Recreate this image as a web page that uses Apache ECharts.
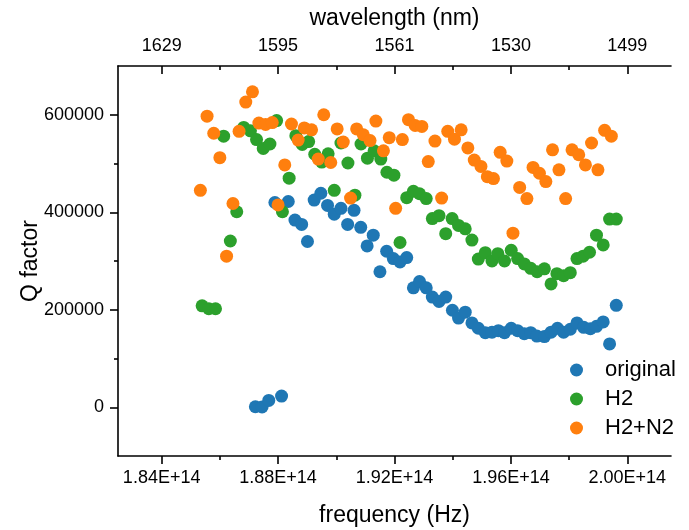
<!DOCTYPE html>
<html>
<head>
<meta charset="utf-8">
<script src="https://cdn.jsdelivr.net/npm/echarts@6/dist/echarts.min.js"></script>
<style>
  html, body { margin: 0; padding: 0; background: #fff; }
  #chart { width: 689px; height: 530px; }
</style>
</head>
<body>
<div id="chart"></div>
<script>
// Measured frequency (Hz) and Q factor for each sample treatment
const freqOriginal = [
  1.8722e14, 1.8745e14, 1.8768e14, 1.8789e14, 1.8812e14, 1.8835e14, 1.8858e14, 1.8881e14,
  1.8901e14, 1.8924e14, 1.8947e14, 1.8970e14, 1.8993e14, 1.9016e14, 1.9039e14, 1.9061e14,
  1.9084e14, 1.9106e14, 1.9127e14, 1.9150e14, 1.9173e14, 1.9196e14, 1.9219e14, 1.9242e14,
  1.9265e14, 1.9286e14, 1.9309e14, 1.9330e14, 1.9353e14, 1.9376e14, 1.9399e14, 1.9420e14,
  1.9443e14, 1.9466e14, 1.9488e14, 1.9512e14, 1.9535e14, 1.9557e14, 1.9578e14, 1.9601e14,
  1.9623e14, 1.9646e14, 1.9668e14, 1.9689e14, 1.9715e14, 1.9738e14, 1.9760e14, 1.9781e14,
  1.9804e14, 1.9827e14, 1.9850e14, 1.9873e14, 1.9894e14, 1.9917e14, 1.9939e14, 1.9962e14
];
const qOriginal = [
  1000, 500, 14000, 420000, 23000, 422000, 384000, 375000,
  340000, 425000, 439000, 414000, 396000, 408000, 375000, 404000,
  369000, 331000, 353000, 278000, 320000, 305000, 298000, 307000,
  245000, 258000, 245000, 226000, 217000, 226000, 199000, 183000,
  195000, 173000, 162000, 153000, 154000, 157000, 153000, 162000,
  157000, 151000, 153000, 146000, 145000, 154000, 162000, 154000,
  160000, 173000, 164000, 161000, 166000, 175000, 130000, 209000
];

const freqH2 = [
  1.8539e14, 1.8562e14, 1.8585e14, 1.8613e14, 1.8636e14, 1.8658e14, 1.8682e14, 1.8705e14,
  1.8726e14, 1.8749e14, 1.8772e14, 1.8795e14, 1.8815e14, 1.8838e14, 1.8861e14, 1.8883e14,
  1.8905e14, 1.8926e14, 1.8950e14, 1.8972e14, 1.8993e14, 1.9016e14, 1.9040e14, 1.9064e14,
  1.9085e14, 1.9107e14, 1.9130e14, 1.9153e14, 1.9174e14, 1.9198e14, 1.9219e14, 1.9242e14,
  1.9265e14, 1.9286e14, 1.9309e14, 1.9330e14, 1.9353e14, 1.9376e14, 1.9398e14, 1.9420e14,
  1.9443e14, 1.9466e14, 1.9488e14, 1.9512e14, 1.9535e14, 1.9555e14, 1.9578e14, 1.9601e14,
  1.9623e14, 1.9646e14, 1.9668e14, 1.9690e14, 1.9715e14, 1.9738e14, 1.9758e14, 1.9781e14,
  1.9804e14, 1.9827e14, 1.9848e14, 1.9870e14, 1.9894e14, 1.9917e14, 1.9939e14, 1.9962e14
];
const qH2 = [
  208000, 202000, 202000, 556000, 341000, 401000, 574000, 567000,
  549000, 531000, 540000, 588000, 401000, 470000, 557000, 539000,
  545000, 519000, 503000, 520000, 445000, 542000, 501000, 435000,
  540000, 511000, 526000, 509000, 482000, 476000, 338000, 430000,
  443000, 438000, 428000, 387000, 393000, 356000, 387000, 373000,
  366000, 343000, 304000, 317000, 300000, 315000, 300000, 322000,
  305000, 294000, 285000, 278000, 284000, 253000, 274000, 270000,
  276000, 305000, 310000, 318000, 353000, 333000, 386000, 386000
];

const freqH2N2 = [
  1.8533e14, 1.8556e14, 1.8579e14, 1.8600e14, 1.8623e14, 1.8645e14, 1.8666e14, 1.8689e14,
  1.8712e14, 1.8734e14, 1.8757e14, 1.8780e14, 1.8800e14, 1.8823e14, 1.8846e14, 1.8869e14,
  1.8890e14, 1.8915e14, 1.8938e14, 1.8957e14, 1.8981e14, 1.9003e14, 1.9024e14, 1.9049e14,
  1.9070e14, 1.9093e14, 1.9116e14, 1.9136e14, 1.9162e14, 1.9182e14, 1.9204e14, 1.9227e14,
  1.9248e14, 1.9271e14, 1.9294e14, 1.9316e14, 1.9339e14, 1.9362e14, 1.9383e14, 1.9406e14,
  1.9429e14, 1.9452e14, 1.9474e14, 1.9497e14, 1.9519e14, 1.9540e14, 1.9563e14, 1.9586e14,
  1.9607e14, 1.9630e14, 1.9655e14, 1.9676e14, 1.9698e14, 1.9720e14, 1.9743e14, 1.9765e14,
  1.9788e14, 1.9810e14, 1.9833e14, 1.9856e14, 1.9877e14, 1.9899e14, 1.9922e14, 1.9945e14
];
const qH2N2 = [
  445000, 597000, 562000, 512000, 310000, 418000, 566000, 626000,
  647000, 583000, 580000, 584000, 415000, 497000, 581000, 548000,
  573000, 569000, 509000, 600000, 502000, 571000, 544000, 429000,
  571000, 559000, 547000, 587000, 526000, 553000, 408000, 549000,
  590000, 578000, 576000, 504000, 546000, 429000, 566000, 550000,
  569000, 532000, 507000, 494000, 473000, 469000, 523000, 505000,
  357000, 451000, 428000, 492000, 480000, 463000, 528000, 487000,
  428000, 528000, 518000, 497000, 542000, 487000, 568000, 556000
];

// Axis ticks: frequency ticks on the bottom, matching wavelengths on the top
const freqTicks = [1.84e14, 1.88e14, 1.92e14, 1.96e14, 2.00e14];
const freqMinorTicks = [1.86e14, 1.90e14, 1.94e14, 1.98e14];
const freqTickLabels = ['1.84E+14', '1.88E+14', '1.92E+14', '1.96E+14', '2.00E+14'];
const wavelengthTickLabels = ['1629', '1595', '1561', '1530', '1499'];
const qTicks = [0, 200000, 400000, 600000];
const qMinorTicks = [100000, 300000, 500000];
const qTickLabels = ['0', '200000', '400000', '600000'];

const seriesNames = ['original', 'H2', 'H2+N2'];
const seriesColors = ['#1f77b4', '#2ca02c', '#ff7f0e'];

const FONT = '"Liberation Sans", Arial, sans-serif';
const X_MIN = 1.825e14, X_MAX = 2.015e14;
const Y_MIN = -100000, Y_MAX = 700000;

function pick(ticks, labels) {
  return function (v) {
    for (let i = 0; i < ticks.length; i++) {
      if (Math.abs(ticks[i] - v) < Math.abs(ticks[i]) * 1e-6 + 1e-6) return labels[i];
    }
    return '';
  };
}
function zip(xs, ys) { return xs.map((x, i) => [x, ys[i]]); }

const lineStyle = { color: '#000', width: 1.6 };
const labelStyle = { color: '#000', fontSize: 18, fontFamily: FONT };
const nameStyle = { color: '#000', fontSize: 23, fontFamily: FONT };

function xAxisDef(position, ticks, major, withLine, inside) {
  return {
    type: 'value', position: position, min: X_MIN, max: X_MAX,
    splitLine: { show: false },
    axisLine: { show: withLine, onZero: false, lineStyle: lineStyle },
    axisTick: { show: true, inside: inside, length: major ? 8 : 4, customValues: ticks, lineStyle: lineStyle },
    axisLabel: { show: false }
  };
}

const bottomMajor = xAxisDef('bottom', freqTicks, true, true, false);
bottomMajor.axisLabel = Object.assign({ show: true, margin: 13, customValues: freqTicks,
  formatter: pick(freqTicks, freqTickLabels) }, labelStyle);
bottomMajor.name = 'frequency (Hz)';
bottomMajor.nameLocation = 'middle';
bottomMajor.nameGap = 48;
bottomMajor.nameMoveOverlap = false;
bottomMajor.nameTextStyle = nameStyle;

const topMajor = xAxisDef('top', freqTicks, true, true, true);
topMajor.axisLabel = Object.assign({ show: true, margin: 11, customValues: freqTicks,
  formatter: pick(freqTicks, wavelengthTickLabels) }, labelStyle);
topMajor.name = 'wavelength (nm)';
topMajor.nameLocation = 'middle';
topMajor.nameGap = 36;
topMajor.nameMoveOverlap = false;
topMajor.nameTextStyle = nameStyle;

const option = {
  animation: false,
  backgroundColor: '#fff',
  textStyle: { fontFamily: FONT },
  grid: { left: 118, right: 18, top: 66, bottom: 74, containLabel: false, outerBoundsMode: 'none' },
  xAxis: [
    bottomMajor,
    xAxisDef('bottom', freqMinorTicks, false, false, false),
    topMajor,
    xAxisDef('top', freqMinorTicks, false, false, true)
  ],
  yAxis: [
    {
      type: 'value', position: 'left', min: Y_MIN, max: Y_MAX,
      splitLine: { show: false },
      axisLine: { show: true, onZero: false, lineStyle: lineStyle },
      axisTick: { show: true, length: 8, customValues: qTicks, lineStyle: lineStyle },
      axisLabel: Object.assign({ margin: 14, customValues: qTicks, formatter: pick(qTicks, qTickLabels) }, labelStyle),
      name: 'Q factor', nameLocation: 'middle', nameRotate: 90, nameGap: 76,
      nameMoveOverlap: false,
      nameTextStyle: nameStyle
    },
    {
      type: 'value', position: 'left', min: Y_MIN, max: Y_MAX,
      splitLine: { show: false },
      axisLine: { show: false, onZero: false },
      axisTick: { show: true, length: 4, customValues: qMinorTicks, lineStyle: lineStyle },
      axisLabel: { show: false }
    }
  ],
  legend: {
    orient: 'vertical', left: 565, top: 353,
    icon: 'circle', itemWidth: 13, itemHeight: 13, itemGap: 5,
    textStyle: { color: '#000', fontSize: 22, fontFamily: FONT, lineHeight: 24, padding: [0, 0, 0, 17] },
    data: seriesNames
  },
  series: [
    { name: seriesNames[0], data: zip(freqOriginal, qOriginal) },
    { name: seriesNames[1], data: zip(freqH2, qH2) },
    { name: seriesNames[2], data: zip(freqH2N2, qH2N2) }
  ].map((s, i) => Object.assign({
    type: 'scatter', xAxisIndex: 0, yAxisIndex: 0,
    symbol: 'circle', symbolSize: 13,
    itemStyle: { color: seriesColors[i], opacity: 1 },
    emphasis: { disabled: true }
  }, s))
};

const chart = echarts.init(document.getElementById('chart'), null, { renderer: 'canvas' });
chart.setOption(option);
</script>
</body>
</html>
